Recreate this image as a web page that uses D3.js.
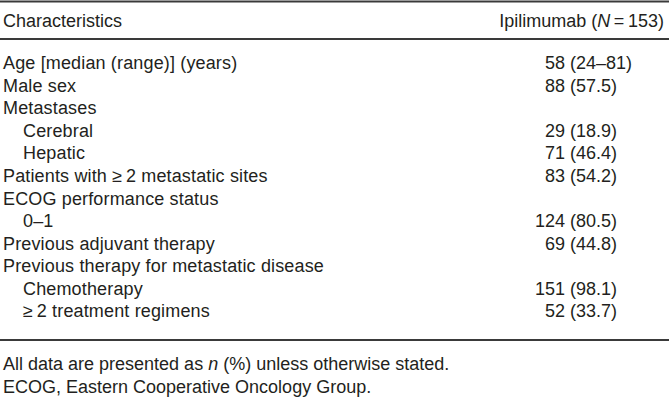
<!DOCTYPE html>
<meta charset="utf-8">
<style>
body { margin: 0; background: #fff; }
svg text { font-family: "Liberation Sans", Arial, sans-serif; fill: #231f20; }
.rule { stroke: #3a3a3a; }
</style>
<svg width="669" height="403"></svg>
<script src="https://d3js.org/d3.v7.min.js"></script>
<script>
// table content
var labels = [
  "Age [median (range)] (years)",
  "Male sex",
  "Metastases",
  "Cerebral",
  "Hepatic",
  "Patients with \u2265\u20092 metastatic sites",
  "ECOG performance status",
  "0\u20131",
  "Previous adjuvant therapy",
  "Previous therapy for metastatic disease",
  "Chemotherapy",
  "\u2265\u20092 treatment regimens"
];
var indent = [0, 0, 0, 1, 1, 0, 0, 1, 0, 0, 1, 1];
var counts = ["58", "88", "", "29", "71", "83", "", "124", "69", "", "151", "52"];
var pcts = ["(24\u201381)", "(57.5)", "", "(18.9)", "(46.4)", "(54.2)", "", "(80.5)", "(44.8)", "", "(98.1)", "(33.7)"];

var svg = d3.select("svg"),
    width = +svg.attr("width");

var fs = 18;

var y = d3.scalePoint()
    .domain(d3.range(labels.length))
    .range([63, 311]);

// rules
svg.append("line").attr("class", "rule")
    .attr("x1", 0).attr("x2", width).attr("y1", 1.5).attr("y2", 1.5)
    .attr("stroke-width", 2);
svg.append("line").attr("class", "rule")
    .attr("x1", 0).attr("x2", width).attr("y1", 39).attr("y2", 39)
    .attr("stroke-width", 2);
svg.append("line").attr("class", "rule")
    .attr("x1", 0).attr("x2", width).attr("y1", 340).attr("y2", 340)
    .attr("stroke-width", 2);

// header
svg.append("text")
    .attr("x", 3).attr("y", 21).attr("dy", "0.35em")
    .attr("font-size", fs)
    .text("Characteristics");

var hdr = svg.append("text")
    .attr("x", 664).attr("y", 21).attr("dy", "0.35em")
    .attr("text-anchor", "end")
    .attr("font-size", fs);
hdr.append("tspan").text("Ipilimumab (");
hdr.append("tspan").attr("font-style", "italic").text("N");
hdr.append("tspan").text("\u2009=\u2009153)");

// rows
var rows = svg.append("g")
    .selectAll("g")
    .data(labels)
    .join("g")
    .attr("transform", function(d, i) { return "translate(0," + y(i) + ")"; });

rows.append("text")
    .attr("x", function(d, i) { return indent[i] ? 23 : 3; })
    .attr("dy", "0.35em")
    .attr("font-size", fs)
    .attr("letter-spacing", 0.15)
    .text(function(d) { return d; });

rows.append("text")
    .attr("x", 565)
    .attr("dy", "0.35em")
    .attr("text-anchor", "end")
    .attr("font-size", fs)
    .text(function(d, i) { return counts[i]; });

rows.append("text")
    .attr("x", 570)
    .attr("dy", "0.35em")
    .attr("font-size", fs)
    .text(function(d, i) { return pcts[i]; });

// footnotes
var f1 = svg.append("text")
    .attr("x", 3).attr("y", 364).attr("dy", "0.35em")
    .attr("font-size", fs);
f1.append("tspan").text("All data are presented as ");
f1.append("tspan").attr("font-style", "italic").text("n");
f1.append("tspan").text(" (%) unless otherwise stated.");

svg.append("text")
    .attr("x", 3).attr("y", 387).attr("dy", "0.35em")
    .attr("font-size", fs)
    .text("ECOG, Eastern Cooperative Oncology Group.");
</script>
